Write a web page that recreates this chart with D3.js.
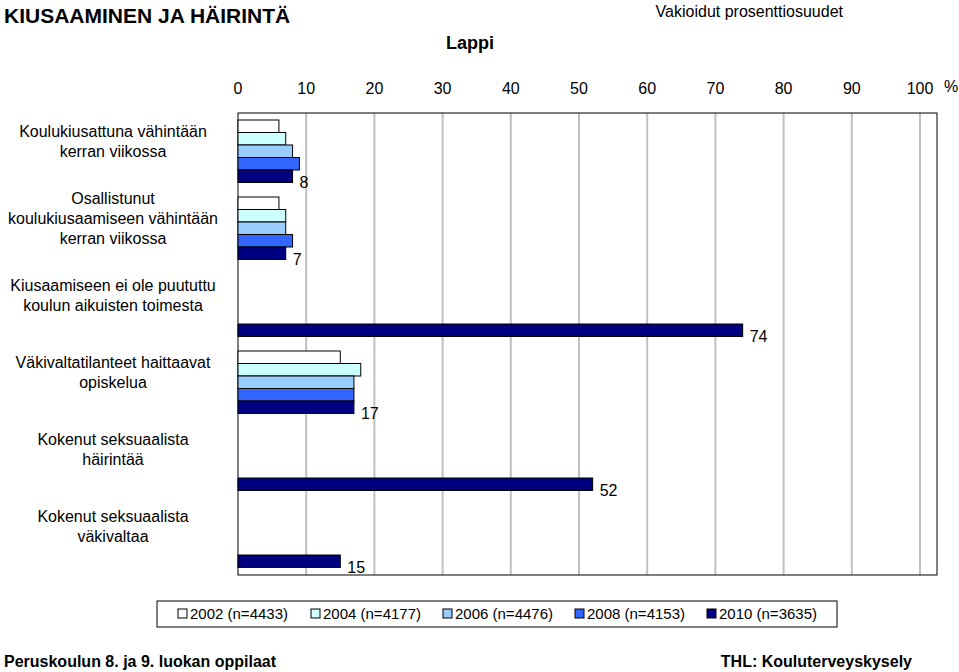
<!DOCTYPE html><html><head><meta charset="utf-8"><script src="https://cdn.jsdelivr.net/npm/d3@7"></script>
<style>body{margin:0;background:#fff}text{font-family:"Liberation Sans",Arial,sans-serif}</style></head><body>
<script>
const categories=[["Koulukiusattuna vähintään","kerran viikossa"],["Osallistunut","koulukiusaamiseen vähintään","kerran viikossa"],["Kiusaamiseen ei ole puututtu","koulun aikuisten toimesta"],["Väkivaltatilanteet haittaavat","opiskelua"],["Kokenut seksuaalista","häirintää"],["Kokenut seksuaalista","väkivaltaa"]];
const years=["2002 (n=4433)","2004 (n=4177)","2006 (n=4476)","2008 (n=4153)","2010 (n=3635)"];
const colors=["#ffffff","#ccffff","#99ccff","#3366ff","#000080"];
const values=[[6,7,8,9,8],[6,7,7,8,7],[null,null,null,null,74],[15,18,17,17,17],[null,null,null,null,52],[null,null,null,null,15]];
const ticks=[0,10,20,30,40,50,60,70,80,90,100];
const svg=d3.select("body").append("svg").attr("width",959).attr("height",672);
const x=d3.scaleLinear().domain([0,100]).range([238,920]);
const y=d3.scaleBand().domain(d3.range(6)).range([113,575]);
const bh=12.5;
svg.append("text").attr("x",4).attr("y",23).attr("font-size",21).attr("font-weight","bold").text("KIUSAAMINEN JA HÄIRINTÄ");
svg.append("text").attr("x",843).attr("y",17).attr("font-size",16).attr("text-anchor","end").text("Vakioidut prosenttiosuudet");
svg.append("text").attr("x",470).attr("y",49).attr("font-size",18).attr("text-anchor","middle").attr("font-weight","bold").text("Lappi");
svg.append("text").attr("x",4).attr("y",667).attr("font-size",16).attr("font-weight","bold").text("Peruskoulun 8. ja 9. luokan oppilaat");
svg.append("text").attr("x",912).attr("y",667).attr("font-size",16).attr("font-weight","bold").attr("text-anchor","end").text("THL: Kouluterveyskysely");
svg.selectAll(".g").data(ticks.slice(1)).enter().append("line").attr("x1",d=>x(d)).attr("x2",d=>x(d)).attr("y1",113).attr("y2",575).attr("stroke","#c0c0c0").attr("stroke-width",2);
svg.append("rect").attr("x",238).attr("y",113).attr("width",699).attr("height",462).attr("fill","none").attr("stroke","#000");
svg.selectAll(".t").data(ticks).enter().append("text").attr("x",d=>x(d)).attr("y",94).attr("font-size",16).attr("text-anchor","middle").text(d=>d);
svg.append("text").attr("x",944).attr("y",92).attr("font-size",16).text("%");
categories.forEach((c,i)=>{
  const top=y(i)+7;
  values[i].forEach((v,j)=>{ if(v==null)return;
    svg.append("rect").attr("x",x(0)).attr("y",top+j*bh).attr("width",x(v)-x(0)).attr("height",bh).attr("fill",colors[j]).attr("stroke","#000").attr("stroke-width",1);});
  const last=values[i][4];
  svg.append("text").attr("x",x(last)+7).attr("y",top+5*bh+5).attr("font-size",16).text(last);
  const n=c.length, cy=y(i)+28;
  c.forEach((s,k)=>svg.append("text").attr("x",113).attr("y",cy+(k-(n-1)/2)*20+6).attr("font-size",16).attr("text-anchor","middle").text(s));
});
svg.append("rect").attr("x",157).attr("y",601).attr("width",680).attr("height",26).attr("fill","#fff").attr("stroke","#000");
const lx=[178,311,443,575,707];
years.forEach((t,j)=>{svg.append("rect").attr("x",lx[j]).attr("y",609).attr("width",9).attr("height",9).attr("fill",colors[j]).attr("stroke","#000");
svg.append("text").attr("x",lx[j]+12).attr("y",619).attr("font-size",15).text(t);});
</script></body></html>
